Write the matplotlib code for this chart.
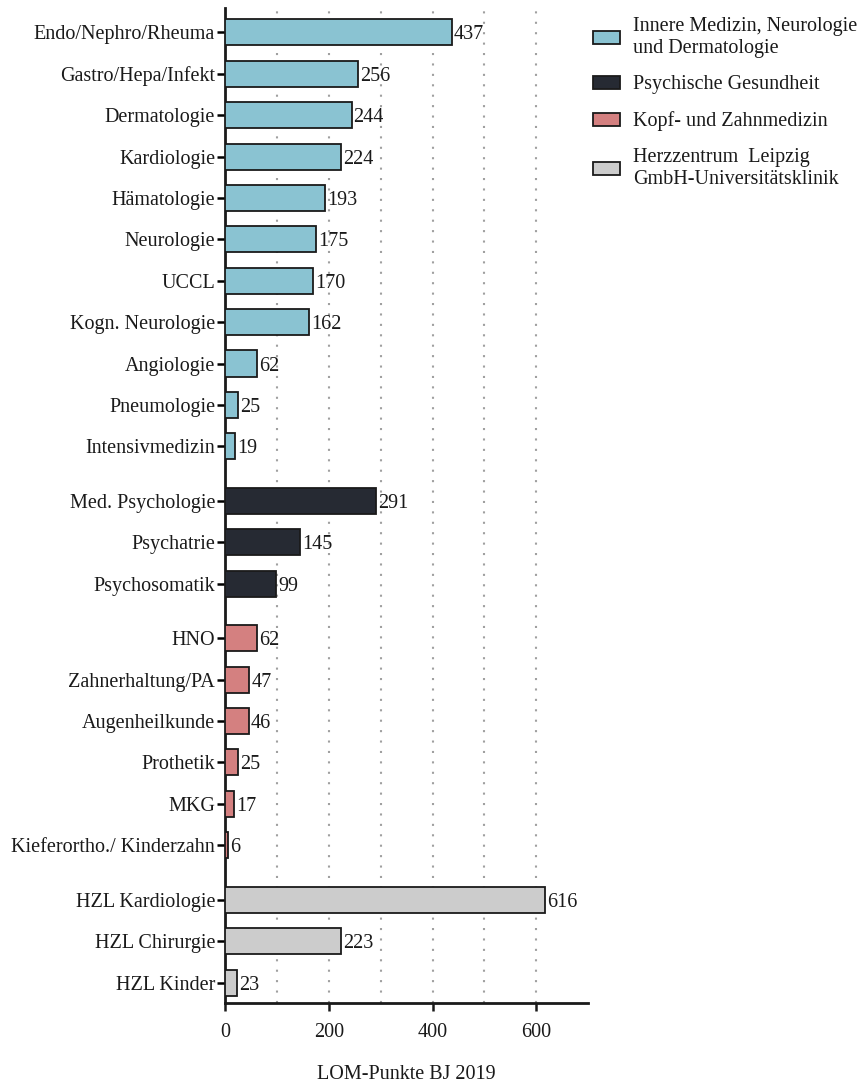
import matplotlib
matplotlib.use("Agg")
import matplotlib.pyplot as plt
from matplotlib.patches import Patch

plt.rcParams['font.family'] = ['Liberation Serif', 'DejaVu Serif']

# groups of departments, top to bottom
innere = ["Endo/Nephro/Rheuma", "Gastro/Hepa/Infekt", "Dermatologie", "Kardiologie",
          "Hämatologie", "Neurologie", "UCCL", "Kogn. Neurologie", "Angiologie",
          "Pneumologie", "Intensivmedizin"]
innere_vals = [437, 256, 244, 224, 193, 175, 170, 162, 62, 25, 19]

psych = ["Med. Psychologie", "Psychatrie", "Psychosomatik"]
psych_vals = [291, 145, 99]

kopf = ["HNO", "Zahnerhaltung/PA", "Augenheilkunde", "Prothetik", "MKG",
        "Kieferortho./ Kinderzahn"]
kopf_vals = [62, 47, 46, 25, 17, 6]

hzl = ["HZL Kardiologie", "HZL Chirurgie", "HZL Kinder"]
hzl_vals = [616, 223, 23]

group_names = ["Innere Medizin, Neurologie\nund Dermatologie", "Psychische Gesundheit",
               "Kopf- und Zahnmedizin", "Herzzentrum  Leipzig\nGmbH-Universitätsklinik"]
group_colors = ["#8ac3d2", "#262a33", "#d48080", "#cccccc"]

groups = [(innere, innere_vals), (psych, psych_vals), (kopf, kopf_vals), (hzl, hzl_vals)]

fig = plt.figure(figsize=(8.65, 10.87), dpi=100)
ax = fig.add_axes([0.260, 0.077, 0.420, 0.916])

fs = 14.5
gap = 0.32
pos = 0.0
ticks, labels = [], []
for (names, vals), col in zip(groups, group_colors):
    ys = []
    for n in names:
        ys.append(pos)
        pos += 1
    pos += gap
    ax.barh(ys, vals, height=0.63, color=col, edgecolor="#1a1a1a", linewidth=1.3, zorder=3)
    for y, v in zip(ys, vals):
        ax.annotate(str(v), (v, y), xytext=(1.5, 0), textcoords="offset points",
                    va="center_baseline", ha="left", fontsize=fs, color="#1a1a1a")
    ticks += ys
    labels += names

last = ticks[-1]
ax.set_ylim(last + 0.5, -0.6)
ax.set_xlim(0, 700)
ax.set_yticks(ticks)
ax.set_yticklabels(labels, fontsize=fs, color="#1a1a1a")
ax.set_xticks([0, 200, 400, 600])
ax.tick_params(axis="x", labelsize=fs, length=6, width=1.8, colors="#1a1a1a", pad=8)
ax.tick_params(axis="y", length=6, width=1.8, pad=1)

for gx in [100, 200, 300, 400, 500, 600]:
    ax.axvline(gx, color="#a0a0a0", linestyle=(0, (1, 4)), linewidth=1.5, zorder=1)

for s in ["top", "right"]:
    ax.spines[s].set_visible(False)
for s in ["left", "bottom"]:
    ax.spines[s].set_linewidth(2)
    ax.spines[s].set_color("#1a1a1a")

ax.set_xlabel("LOM-Punkte BJ 2019", fontsize=fs, labelpad=17, color="#1a1a1a")

handles = [Patch(facecolor=c, edgecolor="#1a1a1a", linewidth=1.3) for c in group_colors]
leg = fig.legend(handles, group_names, loc="upper left", bbox_to_anchor=(0.6855, 0.984),
                 frameon=False, fontsize=fs, handlelength=1.33, handleheight=0.62,
                 labelspacing=0.85, handletextpad=0.65, borderpad=0, borderaxespad=0)
for t in leg.get_texts():
    t.set_color("#1a1a1a")

fig.savefig("out.png", dpi=100)
